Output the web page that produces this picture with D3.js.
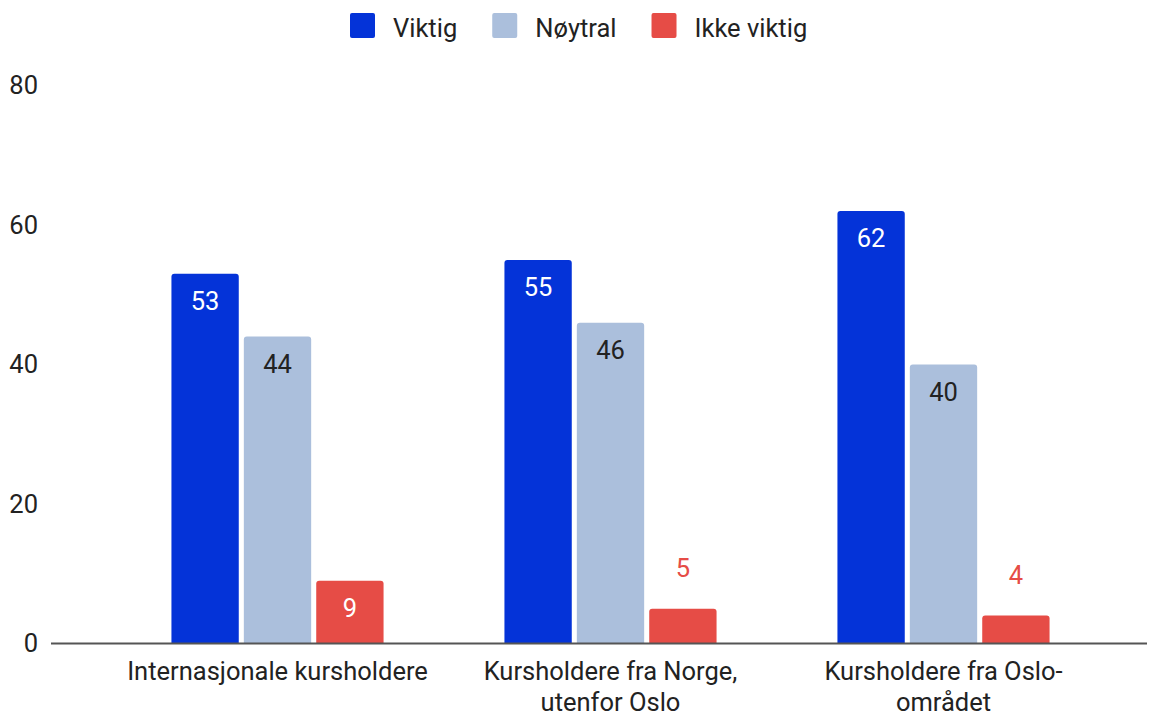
<!DOCTYPE html>
<html>
<head>
<meta charset="utf-8">
<script src="https://cdn.jsdelivr.net/npm/d3@7"></script>
<style>
  html, body { margin: 0; padding: 0; background: #fff; }
  svg { display: block; font-family: Roboto, "Noto Sans", sans-serif; }
</style>
</head>
<body>
<svg id="chart" width="1151" height="713"></svg>
<script>
const categories = ["Internasjonale kursholdere", "Kursholdere fra Norge, utenfor Oslo", "Kursholdere fra Oslo-området"];
const seriesNames = ["Viktig", "Nøytral", "Ikke viktig"];
const viktig = [53, 55, 62];
const noytral = [44, 46, 40];
const ikkeViktig = [9, 5, 4];
const yTicks = [0, 20, 40, 60, 80];

const seriesValues = [viktig, noytral, ikkeViktig];
const colors = ["#0433d8", "#abbfdc", "#e64c46"];
const insideLabelColors = ["#ffffff", "#222222", "#ffffff"];

const svg = d3.select("#chart");
const fontSize = 25.5;

const y = d3.scaleLinear().domain([0, 80]).range([643.5, 85.5]);
const x0 = d3.scaleBand().domain(categories).range([111, 1110]).paddingInner(0.363).paddingOuter(0.1815);
const x1 = d3.scaleBand().domain(seriesNames).range([0, x0.bandwidth()]).paddingInner(0.07);

// Y axis labels
const yAxis = d3.axisLeft(y).tickValues(yTicks).tickSize(0).tickPadding(0);
const yg = svg.append("g").attr("transform", "translate(38,0)").call(yAxis);
yg.select(".domain").remove();
yg.selectAll("text").attr("font-size", fontSize).attr("font-family", "Roboto").attr("fill", "#222");

function topRoundedRect(x, yTop, w, h, r) {
  r = Math.min(r, h, w / 2);
  return `M${x},${yTop + h}V${yTop + r}Q${x},${yTop} ${x + r},${yTop}H${x + w - r}Q${x + w},${yTop} ${x + w},${yTop + r}V${yTop + h}Z`;
}

const data = [];
categories.forEach((c, i) => {
  seriesNames.forEach((s, j) => {
    data.push({ cat: c, series: s, si: j, value: seriesValues[j][i] });
  });
});

const groups = svg.append("g");
groups.selectAll("path.bar").data(data).enter().append("path")
  .attr("class", "bar")
  .attr("fill", d => colors[d.si])
  .attr("d", d => {
    const bx = x0(d.cat) + x1(d.series);
    const yt = y(d.value);
    return topRoundedRect(bx, yt, x1.bandwidth(), y(0) - yt, 3);
  });

groups.selectAll("text.val").data(data).enter().append("text")
  .attr("class", "val")
  .attr("text-anchor", "middle")
  .attr("font-size", fontSize)
  .attr("x", d => x0(d.cat) + x1(d.series) + x1.bandwidth() / 2)
  .attr("y", d => {
    const h = y(0) - y(d.value);
    return h >= 45 ? y(d.value) + 36 : y(d.value) - 32;
  })
  .attr("fill", d => {
    const h = y(0) - y(d.value);
    return h >= 45 ? insideLabelColors[d.si] : colors[d.si];
  })
  .text(d => d.value);

// Baseline
svg.append("line")
  .attr("x1", 51).attr("x2", 1147)
  .attr("y1", y(0)).attr("y2", y(0))
  .attr("stroke", "#555").attr("stroke-width", 2);

// Category labels (wrapped)
const measure = svg.append("text").attr("font-size", fontSize).attr("visibility", "hidden");
function textWidth(t) { measure.text(t); return measure.node().getComputedTextLength(); }
function wrap(label, maxW) {
  const pieces = label.match(/[^\s-]+-?/g);
  const lines = [];
  let cur = "";
  pieces.forEach(p => {
    const joiner = cur === "" ? "" : (cur.endsWith("-") ? "" : " ");
    const trial = cur + joiner + p;
    if (cur !== "" && textWidth(trial) > maxW) {
      lines.push(cur);
      cur = p;
    } else {
      cur = trial;
    }
  });
  if (cur) lines.push(cur);
  return lines;
}

categories.forEach(c => {
  const cx = x0(c) + x0.bandwidth() / 2;
  const lines = wrap(c, 315);
  const t = svg.append("text")
    .attr("text-anchor", "middle")
    .attr("font-size", fontSize)
    .attr("fill", "#222")
    .attr("x", cx)
    .attr("y", 680);
  lines.forEach((ln, k) => {
    t.append("tspan").attr("x", cx).attr("y", 680 + k * 31).text(ln);
  });
});

// Legend
const legend = svg.append("g");
let lx = 350;
seriesNames.forEach((s, j) => {
  legend.append("rect").attr("x", lx).attr("y", 13).attr("width", 25).attr("height", 25)
    .attr("rx", 2).attr("fill", colors[j]);
  const tx = lx + 43;
  legend.append("text").attr("x", tx).attr("y", 37).attr("font-size", fontSize)
    .attr("fill", "#222").text(s);
  lx = tx + textWidth(s) + 35;
});
measure.remove();
</script>
</body>
</html>
